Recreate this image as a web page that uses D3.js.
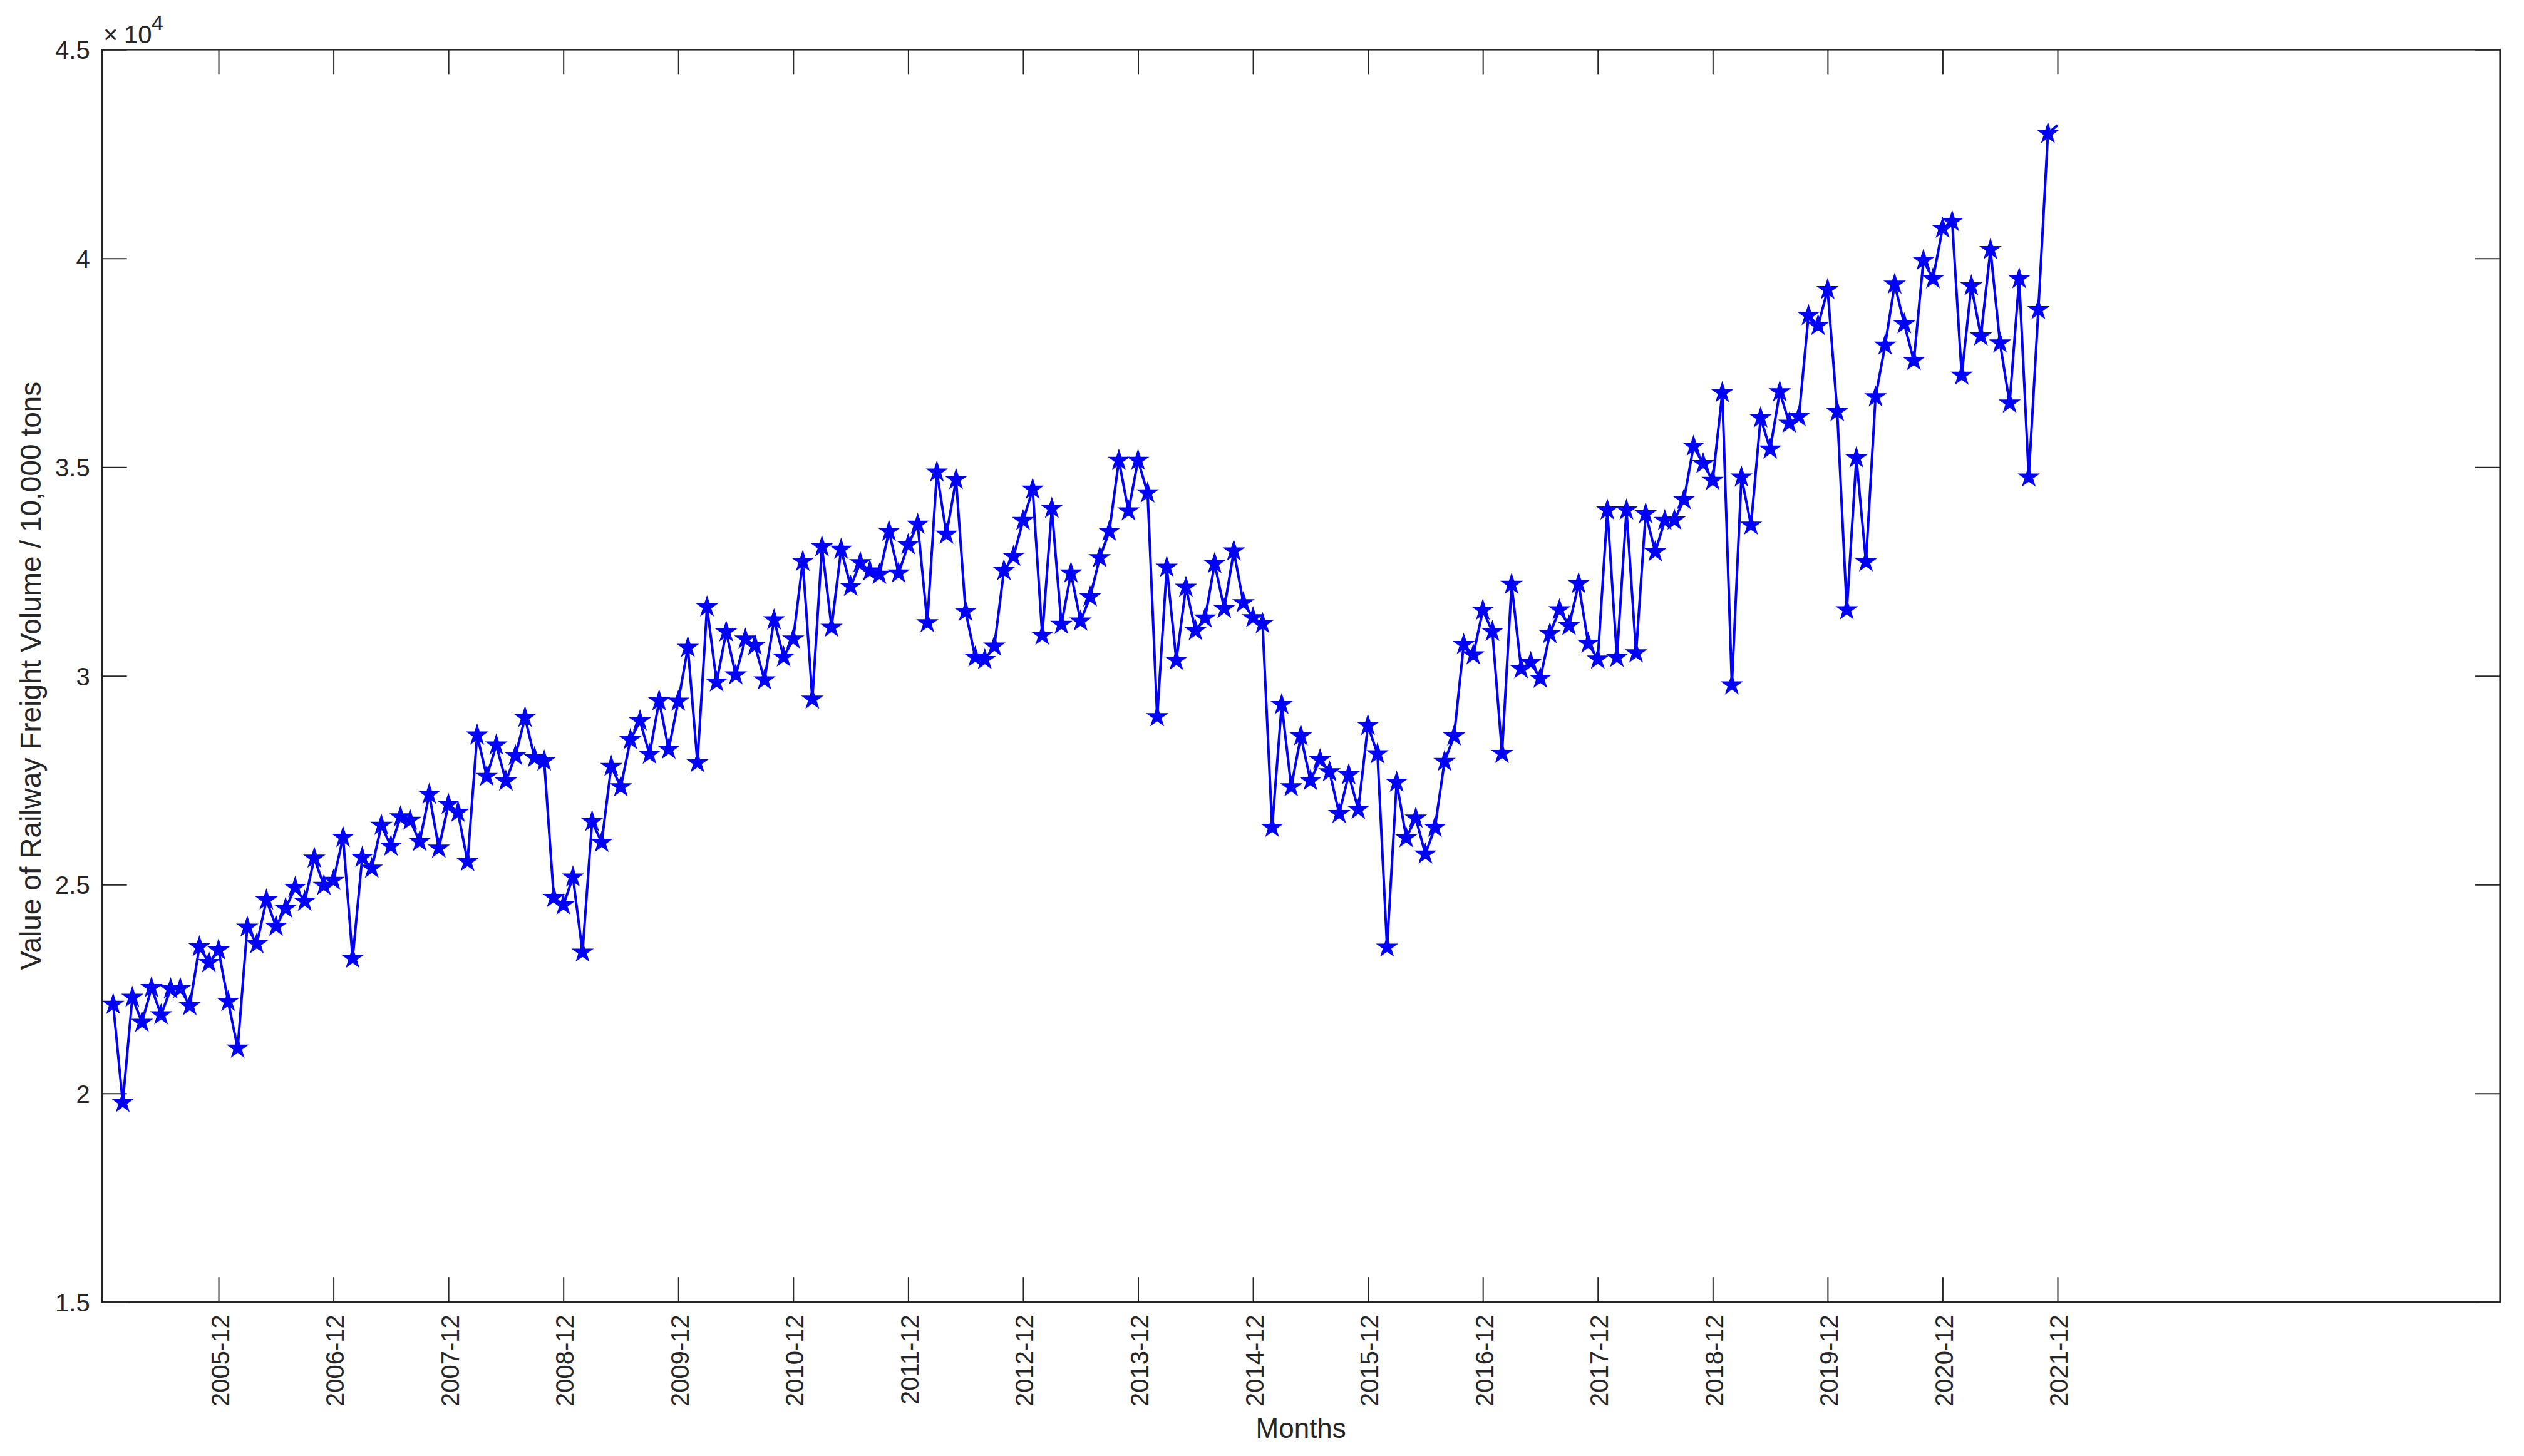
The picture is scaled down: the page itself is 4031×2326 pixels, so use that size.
<!DOCTYPE html>
<html>
<head>
<meta charset="utf-8">
<script src="https://cdn.jsdelivr.net/npm/d3@7"></script>
<style>
  html, body { margin: 0; padding: 0; background: #ffffff; }
  svg { display: block; }
  text { font-family: "Liberation Sans", Arial, Helvetica, sans-serif; fill: #262626; }
</style>
</head>
<body>
<svg id="chart" width="4031" height="2326"></svg>
<script>
// Monthly railway freight volume, 2005-01 .. 2021-12 (unit: 10,000 tons)
const values = [
  22130, 19780, 22300, 21700, 22530, 21880, 22500, 22510, 22100, 23510, 23130, 23430,
  22200, 21080, 23980, 23580, 24630, 24000, 24430, 24930, 24600, 25630, 24980, 25100,
  26130, 23230, 25650, 25390, 26420, 25920, 26620, 26540, 26030, 27160, 25870, 26920,
  26730, 25550, 28580, 27590, 28340, 27480, 28090, 29000, 28040, 27960, 24690, 24510,
  25180, 23380, 26510, 26010, 27830, 27340, 28470, 28920, 28120, 29400, 28240, 29390,
  30680, 27920, 31650, 29850, 31050, 30020, 30880, 30730, 29900, 31340, 30450, 30880,
  32740, 29440, 33090, 31160, 33030, 32140, 32710, 32510, 32430, 33460, 32460, 33140,
  33630, 31270, 34880, 33390, 34700, 31540, 30450, 30390, 30710, 32520, 32860, 33720,
  34470, 30970, 34010, 31230, 32460, 31310, 31890, 32830, 33460, 35160, 33950, 35160,
  34380, 29020, 32600, 30370, 32120, 31080, 31380, 32690, 31610, 32990, 31750, 31390,
  31250, 26370, 29310, 27340, 28560, 27490, 27990, 27700, 26700, 27630, 26800, 28810,
  28130, 23500, 27450, 26120, 26590, 25730, 26370, 27950, 28560, 30750, 30500, 31570,
  31060, 28140, 32190, 30170, 30320, 29940, 31010, 31580, 31200, 32210, 30780, 30400,
  33970, 30440, 33970, 30550, 33880, 32970, 33720, 33730, 34220, 35500, 35080, 34680,
  36780, 29780, 34760, 33610, 36180, 35430, 36800, 36050, 36210, 38630, 38390, 39250,
  36330, 31580, 35220, 32730, 36680, 37920, 39380, 38430, 37550, 39950, 39510, 40720,
  40880, 37200, 39340, 38140, 40210, 37970, 36530, 39510, 34760, 38770, 42990, 43190
];

// x tick positions (month index) and their labels
const xTickIndex = [12, 24, 36, 48, 60, 72, 84, 96, 108, 120, 132, 144, 156, 168, 180, 192, 204];
const xTickLabels = ["2005-12", "2006-12", "2007-12", "2008-12", "2009-12", "2010-12", "2011-12",
  "2012-12", "2013-12", "2014-12", "2015-12", "2016-12", "2017-12", "2018-12", "2019-12",
  "2020-12", "2021-12"];

// y ticks (10,000 tons) and labels (shown as x10^4)
const yTicks = [15000, 20000, 25000, 30000, 35000, 40000, 45000];
const yTickLabels = ["1.5", "2", "2.5", "3", "3.5", "4", "4.5"];

const xLabel = "Months";
const yLabel = "Value of Railway Freight Volume / 10,000 tons";

// ---------- layout ----------
const L = 162.7, R = 3992.7, T = 79.3, B = 2080.2;
const AXIS = "#262626";
const BLUE = "#0000ff";

const svg = d3.select("#chart");
svg.append("rect").attr("width", 4031).attr("height", 2326).attr("fill", "#ffffff");

const x = d3.scaleLinear().domain([-0.18, 250.2]).range([L, R]);
const y = d3.scaleLinear().domain([15000, 45000]).range([B, T]);

const tickLen = 40;
const FS = 40;

// bottom axis
const xAxisB = d3.axisBottom(x)
  .tickValues(xTickIndex)
  .tickSizeInner(-tickLen).tickSizeOuter(0)
  .tickFormat((d, i) => xTickLabels[i]);
const gxB = svg.append("g").attr("transform", `translate(0,${B})`).call(xAxisB);
gxB.select(".domain").remove();
gxB.selectAll(".tick line").attr("stroke", AXIS).attr("stroke-width", 2);
gxB.selectAll(".tick text")
  .attr("font-size", FS)
  .attr("fill", AXIS)
  .attr("text-anchor", "end")
  .attr("x", 0).attr("y", 0).attr("dy", null)
  .attr("transform", "translate(16,20) rotate(-90)");

// top axis (ticks only)
const xAxisT = d3.axisTop(x)
  .tickValues(xTickIndex)
  .tickSizeInner(-tickLen).tickSizeOuter(0)
  .tickFormat("");
const gxT = svg.append("g").attr("transform", `translate(0,${T})`).call(xAxisT);
gxT.select(".domain").remove();
gxT.selectAll(".tick line").attr("stroke", AXIS).attr("stroke-width", 2);

// left axis
const yAxisL = d3.axisLeft(y)
  .tickValues(yTicks)
  .tickSizeInner(-tickLen).tickSizeOuter(0)
  .tickFormat((d, i) => yTickLabels[i]);
const gyL = svg.append("g").attr("transform", `translate(${L},0)`).call(yAxisL);
gyL.select(".domain").remove();
gyL.selectAll(".tick line").attr("stroke", AXIS).attr("stroke-width", 2);
gyL.selectAll(".tick text")
  .attr("font-size", FS)
  .attr("fill", AXIS)
  .attr("x", -19)
  .attr("dy", "0.36em");

// right axis (ticks only)
const yAxisR = d3.axisRight(y)
  .tickValues(yTicks)
  .tickSizeInner(-tickLen).tickSizeOuter(0)
  .tickFormat("");
const gyR = svg.append("g").attr("transform", `translate(${R},0)`).call(yAxisR);
gyR.select(".domain").remove();
gyR.selectAll(".tick line").attr("stroke", AXIS).attr("stroke-width", 2);

// box
svg.append("rect")
  .attr("x", L).attr("y", T).attr("width", R - L).attr("height", B - T)
  .attr("fill", "none").attr("stroke", AXIS).attr("stroke-width", 2.6);

// exponent label x10^4
const expG = svg.append("g");
expG.append("text").attr("x", 165).attr("y", 69).attr("font-size", FS).text("\u00d7");
expG.append("text").attr("x", 198).attr("y", 69).attr("font-size", FS).text("10");
expG.append("text").attr("x", 242).attr("y", 48).attr("font-size", 34).text("4");

// axis titles
svg.append("text")
  .attr("x", (L + R) / 2).attr("y", 2297)
  .attr("text-anchor", "middle").attr("font-size", 44)
  .text(xLabel);
svg.append("text")
  .attr("transform", `translate(65,${(T + B) / 2}) rotate(-90)`)
  .attr("text-anchor", "middle").attr("font-size", 46)
  .text(yLabel);

// data line
const idx = values.map((v, i) => i + 1);
const line = d3.line()
  .x((d, i) => x(idx[i]))
  .y(d => y(d));
svg.append("path")
  .datum(values)
  .attr("d", line)
  .attr("fill", "none")
  .attr("stroke", BLUE)
  .attr("stroke-width", 4)
  .attr("stroke-linejoin", "round");

// pentagram markers
function starPath(Ro) {
  const Ri = Ro * 0.382;
  const pts = [];
  for (let k = 0; k < 10; k++) {
    const a = -Math.PI / 2 + k * Math.PI / 5;
    const r = (k % 2 === 0) ? Ro : Ri;
    pts.push([r * Math.cos(a), r * Math.sin(a)]);
  }
  return "M" + pts.map(p => p[0].toFixed(2) + "," + p[1].toFixed(2)).join("L") + "Z";
}
const star = starPath(16.5);
svg.append("g").selectAll("path")
  .data(values.slice(0, values.length - 1))
  .join("path")
  .attr("d", star)
  .attr("transform", (d, i) => `translate(${x(idx[i])},${y(d)})`)
  .attr("fill", BLUE)
  .attr("stroke", BLUE)
  .attr("stroke-width", 1.5);
</script>
</body>
</html>
